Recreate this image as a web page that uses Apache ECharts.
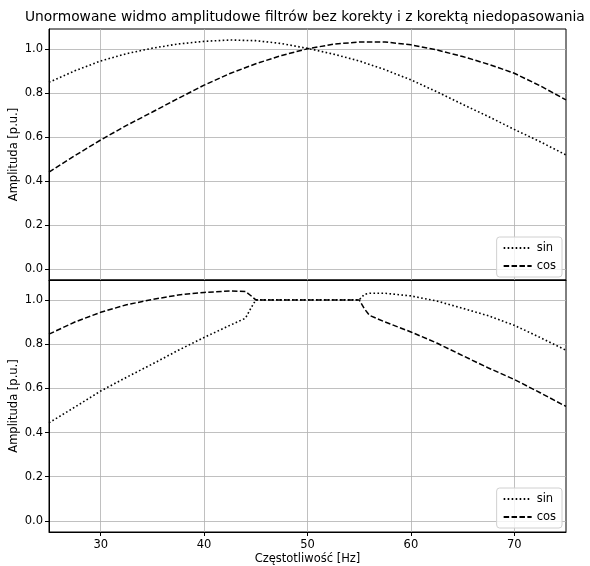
<!DOCTYPE html>
<html>
<head>
<meta charset="utf-8">
<script src="https://cdn.jsdelivr.net/npm/echarts@6/dist/echarts.min.js"></script>
<style>
  html, body { margin: 0; padding: 0; background: #fff; }
  #chart { width: 590px; height: 566px; }
</style>
</head>
<body>
<div id="chart"></div>
<script>
// dane
var topFreq = [25, 27.5, 30, 32.5, 35, 37.5, 40, 42.5, 45, 47.5, 50, 52.5, 55, 57.5, 60, 62.5, 65, 67.5, 70, 72.5, 75];
var topSin = [0.848, 0.900, 0.945, 0.978, 1.003, 1.022, 1.034, 1.040, 1.037, 1.024, 1.002, 0.976, 0.945, 0.905, 0.859, 0.805, 0.748, 0.692, 0.634, 0.578, 0.518];
var topCos = [0.440, 0.515, 0.586, 0.652, 0.713, 0.775, 0.835, 0.888, 0.932, 0.970, 1.000, 1.021, 1.031, 1.031, 1.018, 0.995, 0.965, 0.930, 0.889, 0.832, 0.768];

// po korekcie niedopasowania
var botFreq = [25, 27.5, 30, 32.5, 35, 37.5, 40, 42.5, 44, 44.5, 45, 55, 55.5, 56, 57.5, 60, 62.5, 65, 67.5, 70, 72.5, 75];
var botSin = [0.444, 0.515, 0.588, 0.650, 0.710, 0.772, 0.830, 0.885, 0.917, 0.960, 1.000, 1.000, 1.025, 1.030, 1.030, 1.018, 0.995, 0.962, 0.928, 0.885, 0.830, 0.772];
var botCos = [0.845, 0.900, 0.944, 0.978, 1.002, 1.022, 1.034, 1.040, 1.038, 1.020, 1.000, 1.000, 0.960, 0.930, 0.900, 0.855, 0.805, 0.748, 0.692, 0.640, 0.580, 0.518];

var xTicks = [30, 40, 50, 60, 70];
var yTicks = [0, 0.2, 0.4, 0.6, 0.8, 1.0];

function pairs(xs, ys) {
  return xs.map(function (x, i) { return [x, ys[i]]; });
}

var font = "DejaVu Sans";
var dotted = { color: "#000", width: 1.6, type: [1.6, 2.4], cap: "butt" };
var dashed = { color: "#000", width: 1.5, type: [5.5, 2.4], cap: "butt" };

function xAxisFor(idx, showLabels) {
  return {
    type: "value",
    gridIndex: idx,
    min: 25,
    max: 75,
    name: showLabels ? "Częstotliwość [Hz]" : "",
    nameLocation: "middle",
    nameGap: 21,
    nameMoveOverlap: false,
    nameTextStyle: { fontFamily: font, fontSize: 11.5, color: "#000", verticalAlign: "top" },
    axisLine: { show: true, onZero: false, lineStyle: { color: "#000", width: 1 } },
    axisTick: { show: showLabels, length: 4, customValues: xTicks, lineStyle: { color: "#000" } },
    axisLabel: {
      show: showLabels,
      customValues: xTicks,
      fontFamily: font,
      fontSize: 11.5,
      color: "#000",
      margin: 7
    },
    splitLine: { show: true, lineStyle: { color: "#b0b0b0", width: 0.8 } }
  };
}

function yAxisFor(idx) {
  return {
    type: "value",
    gridIndex: idx,
    min: -0.05,
    max: 1.09,
    name: "Amplituda [p.u.]",
    nameLocation: "middle",
    nameGap: 29,
    nameMoveOverlap: false,
    nameTextStyle: { fontFamily: font, fontSize: 11.5, color: "#000" },
    axisLine: { show: true, onZero: false, lineStyle: { color: "#000", width: 1 } },
    axisTick: { show: true, length: 4, customValues: yTicks, lineStyle: { color: "#000" } },
    axisLabel: {
      customValues: yTicks,
      fontFamily: font,
      fontSize: 11.5,
      color: "#000",
      margin: 6,
      formatter: function (v) { return v.toFixed(1); }
    },
    splitLine: { show: true, lineStyle: { color: "#b0b0b0", width: 0.8 } }
  };
}

function legendFor(top) {
  return {
    orient: "vertical",
    right: 28,
    top: top,
    data: ["sin", "cos"],
    itemWidth: 28,
    itemHeight: 10,
    itemGap: 6,
    padding: [5, 6, 5, 6],
    backgroundColor: "rgba(255,255,255,0.8)",
    borderColor: "#d0d0d0",
    borderWidth: 1,
    borderRadius: 3,
    selectedMode: false,
    itemStyle: { color: "rgba(0,0,0,0)", borderWidth: 0 },
    textStyle: { fontFamily: font, fontSize: 11.5, color: "#000" }
  };
}

function lineSeries(name, idx, data, style) {
  return {
    name: name,
    type: "line",
    xAxisIndex: idx,
    yAxisIndex: idx,
    data: data,
    symbol: "circle",
    showSymbol: false,
    smooth: false,
    lineStyle: style,
    itemStyle: { color: "#000" },
    animation: false
  };
}

var chart = echarts.init(document.getElementById("chart"));
var option = {
  backgroundColor: "#fff",
  animation: false,
  title: {
    text: "Unormowane widmo amplitudowe filtrów bez korekty i z korektą niedopasowania",
    left: 25,
    top: 10,
    padding: 0,
    textStyle: { fontFamily: font, fontSize: 13.8, fontWeight: "normal", color: "#000" }
  },
  legend: [legendFor(237), legendFor(488)],
  grid: [
    { left: 49, right: 24, top: 29, height: 251, show: true, borderColor: "#000", borderWidth: 1, outerBoundsMode: "none" },
    { left: 49, right: 24, top: 280, height: 252, show: true, borderColor: "#000", borderWidth: 1, outerBoundsMode: "none" }
  ],
  xAxis: [xAxisFor(0, false), xAxisFor(1, true)],
  yAxis: [yAxisFor(0), yAxisFor(1)],
  series: [
    lineSeries("sin", 0, pairs(topFreq, topSin), dotted),
    lineSeries("cos", 0, pairs(topFreq, topCos), dashed),
    lineSeries("sin", 1, pairs(botFreq, botSin), dotted),
    lineSeries("cos", 1, pairs(botFreq, botCos), dashed)
  ]
};
chart.setOption(option);
window.onresize = function () {
  chart.resize();
};
</script>
</body>
</html>
